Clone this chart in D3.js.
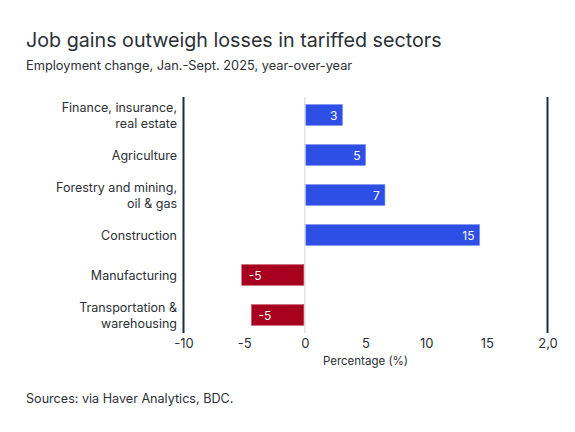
<!DOCTYPE html>
<html>
<head>
<meta charset="utf-8">
<script src="https://cdn.jsdelivr.net/npm/d3@7"></script>
<style>
  html, body { margin: 0; padding: 0; background: #ffffff; }
  svg { display: block; }
  text { font-family: Inter, "Noto Sans", sans-serif; fill: #2b3036; }
</style>
</head>
<body>
<svg id="chart" width="575" height="432"></svg>
<script>
const categories = [
  ["Finance, insurance,", "real estate"],
  ["Agriculture"],
  ["Forestry and mining,", "oil & gas"],
  ["Construction"],
  ["Manufacturing"],
  ["Transportation &", "warehousing"]
];
const values = [3.1, 5.0, 6.6, 14.4, -5.2, -4.4];
const valueLabels = ["3", "5", "7", "15", "-5", "-5"];
const tickValues = [-10, -5, 0, 5, 10, 15, 20];
const tickLabels = ["-10", "-5", "0", "5", "10", "15", "2,0"];

const title = "Job gains outweigh losses in tariffed sectors";
const subtitle = "Employment change, Jan.-Sept. 2025, year-over-year";
const source = "Sources: via Haver Analytics, BDC.";
const axisTitle = "Percentage (%)";

(function () {
const svg = d3.select("#chart");
const W = 575, H = 432;
svg.append("rect").attr("width", W).attr("height", H).attr("fill", "#ffffff");

const pL = 183.5, pR = 547.5, pT = 95, pB = 335;

const x = d3.scaleLinear().domain([-10, 20]).range([pL, pR]);
const idx = categories.map((d, i) => i);
const y = d3.scaleBand().domain(idx).range([pT, pB]).paddingInner(0.48).paddingOuter(0.24);

svg.append("text").attr("x", 26).attr("y", 47).attr("font-size", 19.7).text(title);
svg.append("text").attr("x", 26).attr("y", 70).attr("font-size", 12.8).text(subtitle);
svg.append("text").attr("x", 26).attr("y", 403).attr("font-size", 12.6).text(source);

// zero line
svg.append("line").attr("x1", x(0)).attr("x2", x(0)).attr("y1", pT + 2).attr("y2", pB - 2)
  .attr("stroke", "#e2e2e2").attr("stroke-width", 1.5);

// bars
svg.selectAll("rect.bar").data(values).enter().append("rect")
  .attr("class", "bar")
  .attr("x", d => x(Math.min(0, d)) + (d >= 0 ? 1 : 0))
  .attr("y", (d, i) => y(i))
  .attr("width", d => Math.abs(x(d) - x(0)) - 1)
  .attr("height", y.bandwidth())
  .attr("fill", d => d >= 0 ? "#2e4fe6" : "#a8001f")
  .attr("stroke", d => d >= 0 ? "#6f88f0" : "#c85566")
  .attr("stroke-width", 0.6);

// value labels
svg.selectAll("text.val").data(values).enter().append("text")
  .attr("class", "val")
  .attr("x", d => d >= 0 ? x(d) - 5 : x(d) + 7)
  .attr("y", (d, i) => y(i) + y.bandwidth() / 2 + 4.5)
  .attr("text-anchor", d => d >= 0 ? "end" : "start")
  .attr("font-size", 12)
  .style("fill", "#ffffff")
  .text((d, i) => valueLabels[i]);

// category labels
categories.forEach((lines, i) => {
  const cy = y(i) + y.bandwidth() / 2;
  const n = lines.length;
  lines.forEach((ln, k) => {
    svg.append("text")
      .attr("x", 177)
      .attr("y", cy + 4.5 + (k - (n - 1) / 2) * 16)
      .attr("text-anchor", "end")
      .attr("font-size", 12.5)
      .text(ln);
  });
});

// side lines
[x(-10), x(20)].forEach(px => {
  svg.append("line").attr("x1", px).attr("x2", px).attr("y1", 97).attr("y2", 333)
    .attr("stroke", "#1d2d3e").attr("stroke-width", 2);
});

// x axis
const axis = d3.axisBottom(x).tickValues(tickValues).tickSize(0).tickPadding(0)
  .tickFormat((d, i) => tickLabels[i]);
const g = svg.append("g").attr("transform", `translate(0, 339)`).call(axis);
g.select(".domain").remove();
g.selectAll("text").attr("font-size", 13).attr("font-family", "Inter, 'Noto Sans', sans-serif")
  .style("fill", "#2b3036").attr("dy", "0.71em");

svg.append("text").attr("x", (pL + pR) / 2).attr("y", 364.5).attr("text-anchor", "middle")
  .attr("font-size", 11.5).text(axisTitle);
})();
</script>
</body>
</html>
